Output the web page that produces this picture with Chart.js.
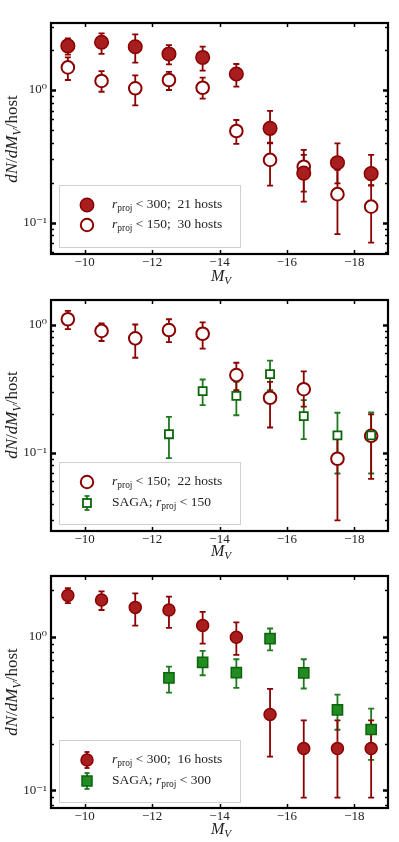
<!DOCTYPE html>
<html>
<head>
<meta charset="utf-8">
<script src="https://cdn.jsdelivr.net/npm/chart.js@4.4.1/dist/chart.umd.min.js"></script>
<style>
  body { margin: 0; background: #fff; }
  #wrap { position: relative; width: 399px; height: 842px; font-family: "Liberation Serif", "DejaVu Serif", serif; color: #222; }
  canvas { position: absolute; left: 0; }
  .ylab { position: absolute; font-size: 17px; white-space: nowrap; transform: translate(-50%, -50%) rotate(-90deg); }
  .xlab { position: absolute; font-size: 16px; white-space: nowrap; transform: translate(-50%, -50%); }
  sub { font-size: 70%; vertical-align: -0.3em; line-height: 0; }
  .legend { position: absolute; left: 59px; width: 180px; height: 61px; border: 1px solid #d0d0d0; background: rgba(255,255,255,0.85); }
  .row { position: absolute; left: 0; width: 180px; height: 20px; font-size: 13.5px; }
  .row svg { position: absolute; left: 17px; top: 0; }
  .row span { position: absolute; left: 52px; top: 1px; white-space: nowrap; }
</style>
</head>
<body>
<div id="wrap">
  <canvas id="c1" width="399" height="280" style="top:0"></canvas>
  <canvas id="c2" width="399" height="280" style="top:280px"></canvas>
  <canvas id="c3" width="399" height="282" style="top:560px"></canvas>

  <div class="ylab" style="left:12px;top:139px"><i>dN</i>/<i>dM</i><sub><i>V</i></sub>/host</div>
  <div class="ylab" style="left:12px;top:415px"><i>dN</i>/<i>dM</i><sub><i>V</i></sub>/host</div>
  <div class="ylab" style="left:12px;top:692px"><i>dN</i>/<i>dM</i><sub><i>V</i></sub>/host</div>

  <div class="xlab" style="left:221px;top:276px"><i>M</i><sub><i>V</i></sub></div>
  <div class="xlab" style="left:221px;top:551px"><i>M</i><sub><i>V</i></sub></div>
  <div class="xlab" style="left:221px;top:829px"><i>M</i><sub><i>V</i></sub></div>

  <div class="legend" style="top:185px">
    <div class="row" style="top:9px">
      <svg width="20" height="20"><circle cx="10" cy="10" r="6.7" fill="#a81e1e" stroke="#8b0000" stroke-width="1.5"/></svg>
      <span><i>r</i><sub>proj</sub> &lt; 300;&nbsp; 21 hosts</span>
    </div>
    <div class="row" style="top:29px">
      <svg width="20" height="20"><circle cx="10" cy="10" r="6.2" fill="#fff" stroke="#8b0000" stroke-width="2"/></svg>
      <span><i>r</i><sub>proj</sub> &lt; 150;&nbsp; 30 hosts</span>
    </div>
  </div>

  <div class="legend" style="top:462px">
    <div class="row" style="top:9px">
      <svg width="20" height="20"><circle cx="10" cy="10" r="6.2" fill="#fff" stroke="#8b0000" stroke-width="2"/></svg>
      <span><i>r</i><sub>proj</sub> &lt; 150;&nbsp; 22 hosts</span>
    </div>
    <div class="row" style="top:30px">
      <svg width="20" height="20"><line x1="10" y1="3" x2="10" y2="17" stroke="#1f7a1f" stroke-width="1.8"/><line x1="7.5" y1="3" x2="12.5" y2="3" stroke="#1f7a1f" stroke-width="1.8"/><line x1="7.5" y1="17" x2="12.5" y2="17" stroke="#1f7a1f" stroke-width="1.8"/><rect x="6" y="6" width="8" height="8" fill="#fff" stroke="#0b650b" stroke-width="1.8"/></svg>
      <span>SAGA; <i>r</i><sub>proj</sub> &lt; 150</span>
    </div>
  </div>

  <div class="legend" style="top:740px">
    <div class="row" style="top:9px">
      <svg width="20" height="20"><line x1="10" y1="2" x2="10" y2="18" stroke="#8b0000" stroke-width="1.8"/><line x1="7.5" y1="2" x2="12.5" y2="2" stroke="#8b0000" stroke-width="1.8"/><line x1="7.5" y1="18" x2="12.5" y2="18" stroke="#8b0000" stroke-width="1.8"/><circle cx="10" cy="10" r="6" fill="#a81e1e" stroke="#8b0000" stroke-width="1.5"/></svg>
      <span><i>r</i><sub>proj</sub> &lt; 300;&nbsp; 16 hosts</span>
    </div>
    <div class="row" style="top:30px">
      <svg width="20" height="20"><line x1="10" y1="2" x2="10" y2="18" stroke="#1f7a1f" stroke-width="1.8"/><line x1="7.5" y1="2" x2="12.5" y2="2" stroke="#1f7a1f" stroke-width="1.8"/><line x1="7.5" y1="18" x2="12.5" y2="18" stroke="#1f7a1f" stroke-width="1.8"/><rect x="5" y="5" width="10" height="10" fill="#228b22" stroke="#0b650b" stroke-width="1.5"/></svg>
      <span>SAGA; <i>r</i><sub>proj</sub> &lt; 300</span>
    </div>
  </div>
</div>

<script>
// magnitude bins (x) and SAGA bins
const bins = [-9.5, -10.5, -11.5, -12.5, -13.5, -14.5, -15.5, -16.5, -17.5, -18.5];
const sagaBins = [-12.5, -13.5, -14.5, -15.5, -16.5, -17.5, -18.5];
const xTicks = [-10, -12, -14, -16, -18];
const xTickLabels = ["\u221210", "\u221212", "\u221214", "\u221216", "\u221218"];
const yTicks = [0.1, 1];
const yTickLabels = ["10\u207B\u00B9", "10\u2070"];

// panel 1
const p1AllY  = [2.15, 2.29, 2.12, 1.87, 1.76, 1.32, 0.514, 0.236, 0.283, 0.234];
const p1AllLo = [1.85, 1.87, 1.61, 1.56, 1.40, 1.06, 0.396, 0.171, 0.198, 0.192];
const p1AllHi = [2.45, 2.67, 2.63, 2.18, 2.12, 1.57, 0.695, 0.324, 0.396, 0.324];
const p1InY   = [1.48, 1.17, 1.03, 1.19, 1.04, 0.491, 0.297, 0.264, 0.164, 0.132];
const p1InLo  = [1.19, 0.97, 0.767, 1.0, 0.86, 0.392, 0.19, 0.144, 0.082, 0.0706];
const p1InHi  = [1.76, 1.39, 1.29, 1.37, 1.24, 0.594, 0.40, 0.353, 0.25, 0.19];

// panel 2
const p2InY   = [1.11, 0.90, 0.787, 0.914, 0.855, 0.406, 0.27, 0.315, 0.090, 0.136];
const p2InLo  = [0.93, 0.75, 0.555, 0.736, 0.653, 0.31, 0.158, 0.23, 0.0297, 0.0626];
const p2InHi  = [1.29, 1.03, 1.01, 1.11, 1.05, 0.507, 0.36, 0.434, 0.14, 0.2];
const p2SagaY  = [0.14, 0.304, 0.279, 0.413, 0.194, 0.137, 0.137];
const p2SagaLo = [0.091, 0.236, 0.197, 0.31, 0.128, 0.069, 0.069];
const p2SagaHi = [0.191, 0.375, 0.36, 0.526, 0.259, 0.206, 0.207];

// panel 3
const p3AllY  = [1.85, 1.73, 1.55, 1.49, 1.18, 0.99, 0.312, 0.187, 0.187, 0.187];
const p3AllLo = [1.65, 1.49, 1.18, 1.14, 0.90, 0.76, 0.166, 0.0896, 0.0896, 0.0896];
const p3AllHi = [2.07, 1.97, 1.91, 1.82, 1.45, 1.24, 0.457, 0.285, 0.285, 0.285];
const p3SagaY  = [0.539, 0.681, 0.584, 0.97, 0.581, 0.334, 0.249];
const p3SagaLo = [0.433, 0.561, 0.464, 0.815, 0.46, 0.248, 0.158];
const p3SagaHi = [0.639, 0.807, 0.713, 1.13, 0.713, 0.42, 0.34];

const RED = "#a81e1e", DARKRED = "#8b0000", GREEN = "#228b22", DARKGREEN = "#0b650b", GREENBAR = "#1f7a1f";

Chart.defaults.font.family = '"Liberation Serif", "DejaVu Serif", serif';
Chart.defaults.font.size = 13;
Chart.defaults.color = "#222";

function pts(xs, ys) {
  return xs.map((x, i) => ({ x: x, y: ys[i] }));
}

// error bars drawn under all markers
const errorBars = {
  id: "errorBars",
  beforeDatasetsDraw(chart) {
    const ctx = chart.ctx;
    const x = chart.scales.x, y = chart.scales.y;
    ctx.save();
    chart.data.datasets.forEach((ds) => {
      ctx.strokeStyle = ds.errColor;
      ctx.lineWidth = 1.8;
      ds.data.forEach((p, i) => {
        const px = x.getPixelForValue(p.x);
        const lo = y.getPixelForValue(ds.errLo[i]);
        const hi = y.getPixelForValue(ds.errHi[i]);
        ctx.beginPath();
        ctx.moveTo(px, lo); ctx.lineTo(px, hi);
        ctx.moveTo(px - 3, lo); ctx.lineTo(px + 3, lo);
        ctx.moveTo(px - 3, hi); ctx.lineTo(px + 3, hi);
        ctx.stroke();
      });
    });
    ctx.restore();
  }
};

// matplotlib style frame with inward ticks on all sides
const frame = {
  id: "frame",
  afterDraw(chart) {
    const ctx = chart.ctx;
    const a = chart.chartArea;
    const x = chart.scales.x, y = chart.scales.y;
    ctx.save();
    ctx.strokeStyle = "#000";
    ctx.lineWidth = 1.5;
    xTicks.forEach((v) => {
      const px = Math.round(x.getPixelForValue(v)) + 0.5;
      ctx.beginPath();
      ctx.moveTo(px, a.bottom); ctx.lineTo(px, a.bottom - 4);
      ctx.moveTo(px, a.top); ctx.lineTo(px, a.top + 4);
      ctx.stroke();
    });
    const dmin = Math.floor(Math.log10(y.min)), dmax = Math.ceil(Math.log10(y.max));
    for (let d = dmin; d <= dmax; d++) {
      for (let m = 1; m <= 9; m++) {
        const v = m * Math.pow(10, d);
        if (v < y.min || v > y.max) continue;
        const py = Math.round(y.getPixelForValue(v)) + 0.5;
        const len = m === 1 ? 5 : 3;
        ctx.lineWidth = m === 1 ? 2.5 : 1.3;
        ctx.beginPath();
        ctx.moveTo(a.left, py); ctx.lineTo(a.left + len, py);
        ctx.moveTo(a.right, py); ctx.lineTo(a.right - len, py);
        ctx.stroke();
      }
    }
    ctx.lineWidth = 2.2;
    ctx.strokeRect(a.left, a.top, a.right - a.left, a.bottom - a.top);
    ctx.restore();
  }
};

function makeChart(id, datasets, yMin, yMax, padTop, xHeight) {
  return new Chart(document.getElementById(id), {
    type: "scatter",
    data: { datasets: datasets },
    options: {
      responsive: false,
      animation: false,
      layout: { padding: { top: padTop, right: 11, left: 0, bottom: 0 } },
      plugins: { legend: { display: false }, tooltip: { enabled: false } },
      scales: {
        x: {
          type: "linear",
          min: -19, max: -9, reverse: true,
          grid: { display: false, drawTicks: false },
          border: { display: false },
          afterBuildTicks: (s) => { s.ticks = xTicks.map((v) => ({ value: v })); },
          afterFit: (s) => { s.height = xHeight; },
          ticks: {
            padding: 1,
            autoSkip: false,
            maxRotation: 0,
            callback: (v) => xTickLabels[xTicks.indexOf(v)]
          }
        },
        y: {
          type: "logarithmic",
          min: yMin, max: yMax,
          grid: { display: false, drawTicks: false },
          border: { display: false },
          afterBuildTicks: (s) => { s.ticks = yTicks.map((v) => ({ value: v })); },
          afterFit: (s) => { s.width = 51; },
          ticks: {
            padding: 4,
            autoSkip: false,
            callback: (v) => yTickLabels[yTicks.indexOf(v)]
          }
        }
      }
    },
    plugins: [errorBars, frame]
  });
}

makeChart("c1", [
  { data: pts(bins, p1AllY), errLo: p1AllLo, errHi: p1AllHi, errColor: DARKRED,
    pointStyle: "circle", pointRadius: 6.8, backgroundColor: RED, borderColor: DARKRED, borderWidth: 1.5 },
  { data: pts(bins, p1InY), errLo: p1InLo, errHi: p1InHi, errColor: DARKRED,
    pointStyle: "circle", pointRadius: 6.3, backgroundColor: "#fff", borderColor: DARKRED, borderWidth: 2 }
], 0.058, 3.2, 23, 26);

makeChart("c2", [
  { data: pts(sagaBins, p2SagaY), errLo: p2SagaLo, errHi: p2SagaHi, errColor: GREENBAR,
    pointStyle: "rect", pointRadius: 5.7, backgroundColor: "#fff", borderColor: DARKGREEN, borderWidth: 1.8 },
  { data: pts(bins, p2InY), errLo: p2InLo, errHi: p2InHi, errColor: DARKRED,
    pointStyle: "circle", pointRadius: 6.3, backgroundColor: "#fff", borderColor: DARKRED, borderWidth: 2 }
], 0.0245, 1.57, 20, 29);

makeChart("c3", [
  { data: pts(sagaBins, p3SagaY), errLo: p3SagaLo, errHi: p3SagaHi, errColor: GREENBAR,
    pointStyle: "rect", pointRadius: 7.2, backgroundColor: GREEN, borderColor: DARKGREEN, borderWidth: 1.5 },
  { data: pts(bins, p3AllY), errLo: p3AllLo, errHi: p3AllHi, errColor: DARKRED,
    pointStyle: "circle", pointRadius: 6, backgroundColor: RED, borderColor: DARKRED, borderWidth: 1.5 }
], 0.0768, 2.48, 16, 34);
</script>
</body>
</html>
